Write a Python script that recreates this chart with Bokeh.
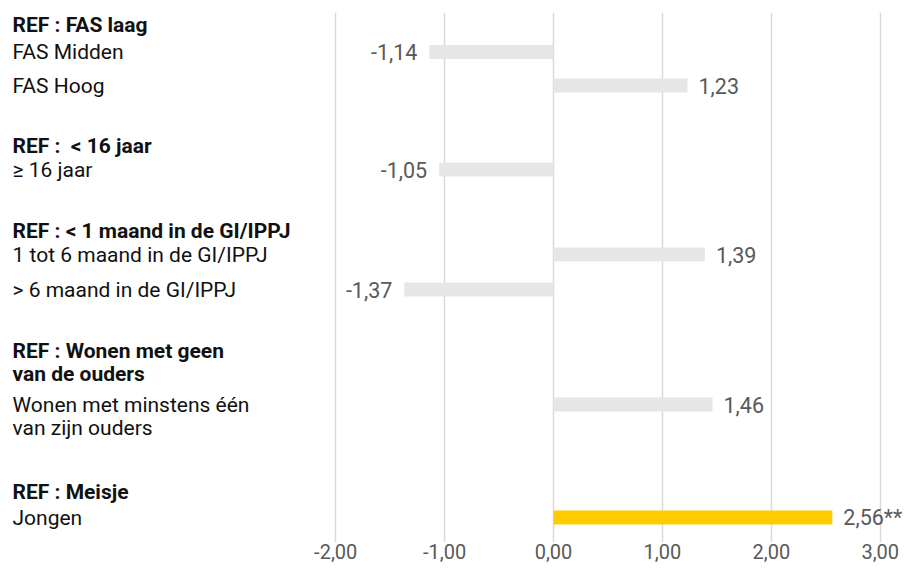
from bokeh.plotting import figure
from bokeh.models import ColumnDataSource, Range1d, FixedTicker
from bokeh.core.properties import value
from bokeh.embed import file_html
from bokeh.resources import INLINE

# ---------------- data ----------------
ref_labels = [
    "REF : FAS laag",
    "REF :\u00a0 < 16 jaar",
    "REF : < 1 maand in de GI/IPPJ",
    "REF : Wonen met geen\nvan de ouders",
    "REF : Meisje",
]
categories = [
    "FAS Midden",
    "FAS Hoog",
    "≥ 16 jaar",
    "1 tot 6 maand in de GI/IPPJ",
    "> 6 maand in de GI/IPPJ",
    "Wonen met minstens één\nvan zijn ouders",
    "Jongen",
]
values = [-1.14, 1.23, -1.05, 1.39, -1.37, 1.46, 2.56]
value_labels = ["-1,14", "1,23", "-1,05", "1,39", "-1,37", "1,46", "2,56**"]
highlight = [False, False, False, False, False, False, True]
tick_values = [-2, -1, 0, 1, 2, 3]
tick_labels = ["-2,00", "-1,00", "0,00", "1,00", "2,00", "3,00"]

# ---------------- layout ----------------
ref_rows = [24, 145, 230, 350, 491]             # pixel rows of the REF lines
cat_rows = [51.5, 85, 169, 254, 289, 404, 517]  # pixel rows of the category lines
LINE_STEP = 23
W, H = 911, 568
TOP_BORDER = 12
AXIS_H = 26
X_START, X_END = -5.078, 3.287

p = figure(width=W, height=H, output_backend="svg", toolbar_location=None,
           x_range=Range1d(X_START, X_END),
           y_range=Range1d(H - AXIS_H, TOP_BORDER),
           min_border_left=0, min_border_right=0, min_border_top=TOP_BORDER,
           min_border_bottom=AXIS_H)
p.outline_line_color = None
p.background_fill_color = "white"
p.border_fill_color = "white"
p.yaxis.visible = False
p.ygrid.visible = False
p.xgrid.ticker = FixedTicker(ticks=tick_values)
p.xgrid.grid_line_color = "#d9d9d9"
p.xgrid.grid_line_width = 1.5

p.xaxis.ticker = FixedTicker(ticks=tick_values)
p.xaxis.major_label_overrides = dict(zip(tick_values, tick_labels))
p.xaxis.axis_line_color = None
p.xaxis.major_tick_line_color = None
p.xaxis.minor_tick_line_color = None
p.xaxis.major_tick_out = 0
p.xaxis.major_tick_in = 0
p.xaxis.major_label_standoff = 1
p.xaxis.major_label_text_font = "Roboto"
p.xaxis.major_label_text_font_size = "20px"
p.xaxis.major_label_text_color = "#595959"

# bars
bar_src = ColumnDataSource(dict(
    y=cat_rows, right=values,
    color=["#ffcc00" if h else "#e7e6e6" for h in highlight],
))
p.hbar(y="y", left=0, right="right", height=14, color="color", line_color=None, source=bar_src)

# value labels
pos = [i for i, v in enumerate(values) if v >= 0]
neg = [i for i, v in enumerate(values) if v < 0]
p.text(x=[values[i] for i in pos], y=[cat_rows[i] for i in pos],
       text=[value_labels[i] for i in pos], x_offset=11,
       text_align="left", text_baseline="middle",
       text_font=value("Roboto"), text_font_size="21.5px", text_color="#595959")
p.text(x=[values[i] for i in neg], y=[cat_rows[i] for i in neg],
       text=[value_labels[i] for i in neg], x_offset=-12,
       text_align="right", text_baseline="middle",
       text_font=value("Roboto"), text_font_size="21.5px", text_color="#595959")

# left labels
def split_lines(labels, rows):
    xs, ys, ts = [], [], []
    for lab, r in zip(labels, rows):
        for k, line in enumerate(lab.split("\n")):
            xs.append(X_START)
            ys.append(r + k * LINE_STEP)
            ts.append(line)
    return xs, ys, ts

rx, ry, rt = split_lines(ref_labels, ref_rows)
p.text(x=rx, y=ry, text=rt, x_offset=12, text_align="left", text_baseline="middle",
       text_font=value("Roboto"), text_font_style="bold", text_font_size="21px",
       text_color="#111111")
cx, cy, ct = split_lines(categories, cat_rows)
p.text(x=cx, y=cy, text=ct, x_offset=12, text_align="left", text_baseline="middle",
       text_font=value("Roboto"), text_font_size="21px", text_color="#111111")

open("out.html", "w").write(file_html(p, INLINE))
